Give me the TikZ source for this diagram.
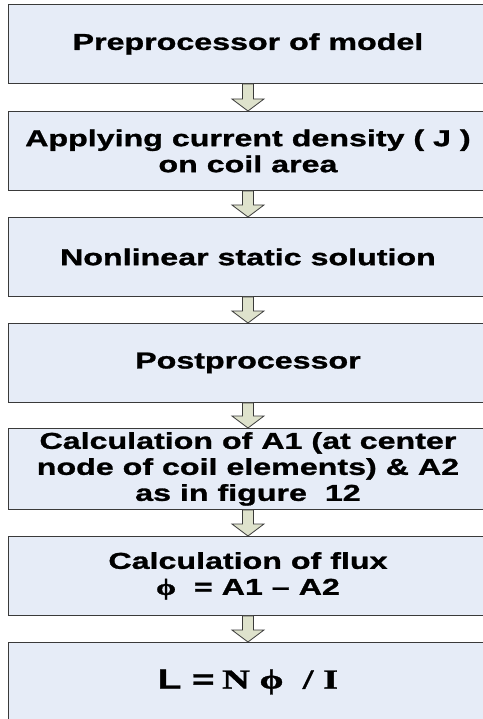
\documentclass[tikz,border=0pt]{standalone}
\usepackage{fontspec}
\setmainfont{Liberation Sans}
\newfontfamily\sansx[FakeStretch=1.40,FakeBold=1.2]{Liberation Sans}
\newfontfamily\serifx[FakeStretch=1.40,FakeBold=1.2]{Liberation Serif}
\usetikzlibrary{calc}
\definecolor{boxfill}{HTML}{E6ECF7}
\definecolor{boxline}{HTML}{3A3A3A}
\definecolor{arrfill}{HTML}{DEE2CC}
\tikzset{
  stepbox/.style={draw=boxline, line width=0.9pt, fill=boxfill,
    minimum width=479pt, minimum height=79pt, anchor=north west,
    inner sep=0pt, align=center,
    font=\sansx\bfseries\fontsize{23}{26}\selectfont},
  flowarr/.style={draw=boxline, line width=0.8pt, fill=arrfill, line join=miter}
}
\newcommand\flowarrow[2]{%
  \draw[flowarr] ($(#1.south)+(-5.5,0)$) -- ($(#2.north)+(-5.5,-12)$)
    -- ($(#2.north)+(-16,-12)$) -- (#2.north) -- ($(#2.north)+(16,-12)$)
    -- ($(#2.north)+(5.5,-12)$) -- ($(#1.south)+(5.5,0)$) -- cycle;}
\begin{document}
\begin{tikzpicture}[x=1pt,y=-1pt]
  \useasboundingbox (0,0) rectangle (482,719);
  \fill[white] (0,0) rectangle (482,719);
  \node[stepbox] (b1) at (8,4) {Preprocessor of model};
  \node[stepbox] (b2) at (8,111) {Applying current density ( J )\\on coil area};
  \node[stepbox] (b3) at (8,217) {Nonlinear static solution};
  \node[stepbox] (b4) at (8,323) {Postprocessor};
  \node[stepbox, minimum height=81pt] (b5) at (8,428) {Calculation of A1 (at center\\node of coil elements) \& A2\\as in figure~~12};
  \node[stepbox] (b6) at (8,536) {Calculation of flux\\{\serifx\bfseries ϕ}~~= A1 – A2};
  \node[stepbox, font=\fontsize{27.5}{31}\selectfont] (b7) at (8,642)
    {{\sansx\bfseries L =} {\serifx\bfseries N ϕ~~/ I}};
  \flowarrow{b1}{b2}
  \flowarrow{b2}{b3}
  \flowarrow{b3}{b4}
  \flowarrow{b4}{b5}
  \flowarrow{b5}{b6}
  \flowarrow{b6}{b7}
\end{tikzpicture}
\end{document}
